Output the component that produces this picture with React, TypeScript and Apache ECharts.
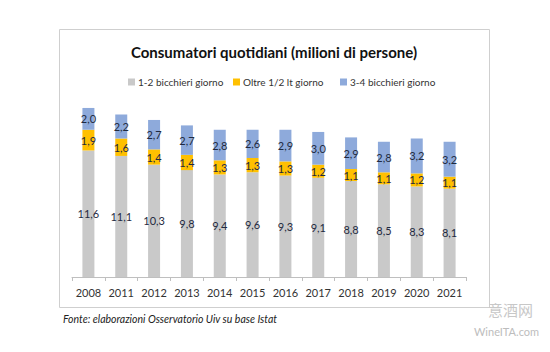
import React, { useEffect, useRef } from "react";
import * as echarts from "echarts";

const years = ["2008", "2011", "2012", "2013", "2014", "2015", "2016", "2017", "2018", "2019", "2020", "2021"];
const dueBicchieri = [11.6, 11.1, 10.3, 9.8, 9.4, 9.6, 9.3, 9.1, 8.8, 8.5, 8.3, 8.1];
const oltreMezzoLitro = [1.9, 1.6, 1.4, 1.4, 1.3, 1.3, 1.3, 1.2, 1.1, 1.1, 1.2, 1.1];
const quattroBicchieri = [2.0, 2.2, 2.7, 2.7, 2.8, 2.6, 2.9, 3.0, 2.9, 2.8, 3.2, 3.2];
const seriesNames = ["1-2 bicchieri giorno", "Oltre 1/2 lt giorno", "3-4 bicchieri giorno"];

const FONT = "Lato, 'Open Sans', sans-serif";

export default function App() {
  const ref = useRef<HTMLDivElement>(null);
  useEffect(() => {
    if (!ref.current) return;
    const chart = echarts.init(ref.current, undefined, { renderer: "svg" });
    const fmt = (p: any) => Number(p.value).toFixed(1).replace(".", ",");
    const label = {
      show: true,
      position: "inside" as const,
      formatter: fmt,
      color: "#1f2a40",
      fontSize: 11,
      fontFamily: FONT,
    };
    const legendBase = {
      top: 72,
      itemWidth: 7,
      itemHeight: 7,
      icon: "rect",
      textStyle: { fontSize: 10, color: "#333", fontFamily: FONT, padding: [0, 0, 0, -2] },
    };
    chart.setOption({
      animation: false,
      backgroundColor: "#ffffff",
      title: {
        text: "Consumatori quotidiani (milioni di persone)",
        left: 269,
        textAlign: "center",
        top: 39,
        textStyle: { fontSize: 15, fontWeight: "bold", color: "#111", fontFamily: FONT },
      },
      legend: [
        { ...legendBase, left: 123, data: [seriesNames[0]] },
        { ...legendBase, left: 228, data: [seriesNames[1]] },
        { ...legendBase, left: 335, data: [seriesNames[2]] },
      ],
      grid: { left: 72, right: 84, top: 102.5, bottom: 75 },
      xAxis: {
        type: "category",
        data: years,
        axisLine: { lineStyle: { color: "#bfbfbf" } },
        axisTick: { show: true, length: 4, lineStyle: { color: "#bfbfbf" } },
        axisLabel: { interval: 0, fontSize: 11, color: "#333", fontFamily: FONT, margin: 10 },
      },
      yAxis: {
        type: "value",
        min: 0,
        max: 16,
        show: false,
        splitLine: { show: false },
      },
      series: [
        {
          name: seriesNames[0],
          type: "bar",
          stack: "tot",
          barWidth: 12,
          data: dueBicchieri,
          itemStyle: { color: "#c9c9c9" },
          label,
        },
        {
          name: seriesNames[1],
          type: "bar",
          stack: "tot",
          barWidth: 12,
          data: oltreMezzoLitro,
          itemStyle: { color: "#ffc000" },
          label,
        },
        {
          name: seriesNames[2],
          type: "bar",
          stack: "tot",
          barWidth: 12,
          data: quattroBicchieri,
          itemStyle: { color: "#8eaadb" },
          label,
        },
      ],
      graphic: [
        {
          type: "rect",
          shape: { x: 59.5, y: 29.5, width: 430, height: 278 },
          style: { fill: "none", stroke: "#cfcfcf", lineWidth: 1 },
          z: -1,
        },
        {
          type: "text",
          x: 63,
          y: 313,
          style: {
            text: "Fonte: elaborazioni Osservatorio Uiv su base Istat",
            fontSize: 10.5,
            fontStyle: "italic",
            fill: "#222",
            fontFamily: FONT,
          },
        },
        {
          type: "text",
          x: 488,
          y: 302,
          style: { text: "意酒网", fontSize: 15, fill: "#c8c8c8", fontFamily: "'Noto Sans CJK SC'" },
        },
        {
          type: "text",
          x: 474,
          y: 326,
          style: { text: "WineITA.com", fontSize: 11, fill: "#bdbdbd", fontFamily: FONT },
        },
      ],
    });
    return () => chart.dispose();
  }, []);
  return <div ref={ref} style={{ width: 550, height: 352, position: "absolute", left: 0, top: 0 }} />;
}
